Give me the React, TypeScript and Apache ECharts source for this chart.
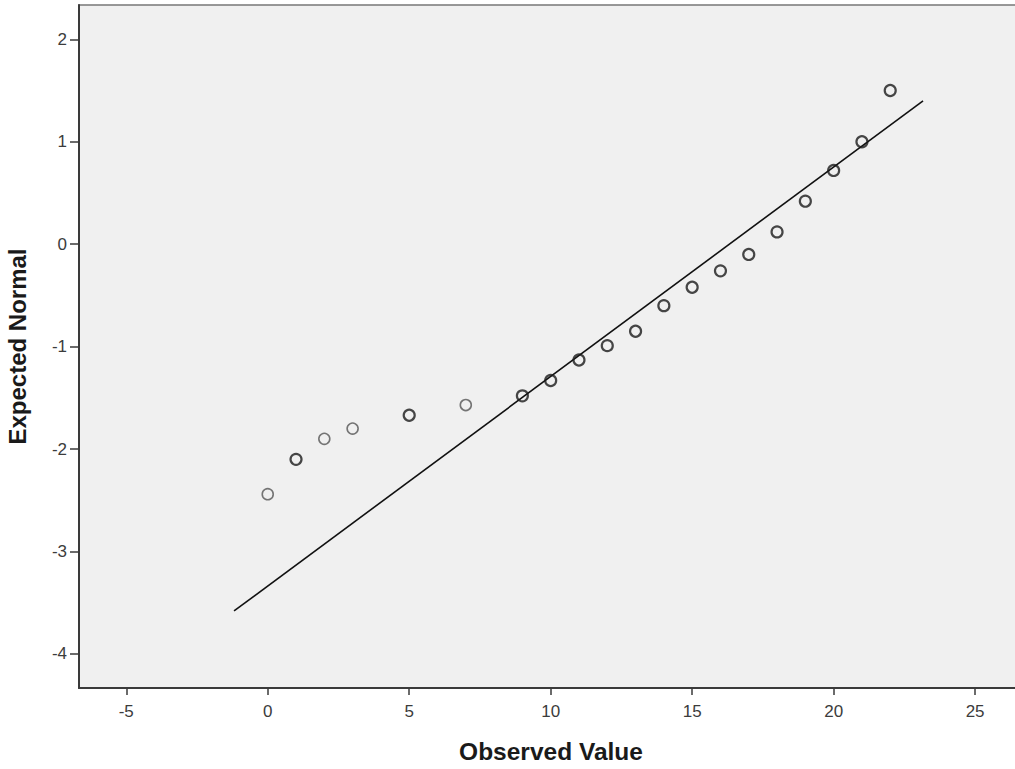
import React, { useEffect, useRef } from "react";
import * as echarts from "echarts";

const observed: number[] = [0, 1, 2, 3, 5, 7, 9, 10, 11, 12, 13, 14, 15, 16, 17, 18, 19, 20, 21, 22];
const expectedNormal: number[] = [
  -2.44, -2.1, -1.9, -1.8, -1.67, -1.57, -1.48, -1.33, -1.13, -0.99, -0.85, -0.6, -0.42, -0.26, -0.1, 0.12,
  0.42, 0.72, 1.0, 1.5,
];
// observed values drawn with a lighter outline
const lightObserved: number[] = [0, 2, 3, 7];
const lineX: number[] = [-1.19, 23.16];
const lineY: number[] = [-3.58, 1.4];
const xTicks: number[] = [-5, 0, 5, 10, 15, 20, 25];
const yTicks: number[] = [-4, -3, -2, -1, 0, 1, 2];

const FONT = '"Liberation Sans", Arial, "Noto Sans", sans-serif';

export default function App() {
  const ref = useRef<HTMLDivElement>(null);
  useEffect(() => {
    document.body.style.margin = "0";
    document.body.style.overflow = "hidden";
    const chart = echarts.init(ref.current!, null, { renderer: "svg" });
    const dark: number[][] = [];
    const light: number[][] = [];
    observed.forEach((x, i) => {
      (lightObserved.includes(x) ? light : dark).push([x, expectedNormal[i]]);
    });
    chart.setOption({
      animation: false,
      backgroundColor: "#ffffff",
      grid: {
        left: 79,
        top: 5,
        right: 40,
        bottom: 81,
        containLabel: false,
        outerBoundsMode: "none",
        show: true,
        backgroundColor: "#f0f0f0",
        borderColor: "#777777",
        borderWidth: 1.5,
      },
      xAxis: {
        type: "value",
        min: -6.67,
        max: 28,
        splitLine: { show: false },
        axisLine: { show: true, onZero: false, lineStyle: { color: "#3a3a3a", width: 2 } },
        axisTick: { show: true, length: 7, customValues: xTicks, lineStyle: { color: "#3a3a3a", width: 1.5 } },
        axisLabel: {
          customValues: xTicks,
          margin: 15,
          fontSize: 17,
          color: "#3c3c3c",
          fontFamily: FONT,
        },
      },
      yAxis: {
        type: "value",
        min: -4.332,
        max: 2.335,
        name: "Expected Normal",
        nameLocation: "middle",
        nameGap: 50,
        nameTextStyle: { fontSize: 24, fontWeight: "bold", color: "#1a1a1a", fontFamily: FONT },
        splitLine: { show: false },
        axisLine: { show: true, onZero: false, lineStyle: { color: "#3a3a3a", width: 2 } },
        axisTick: { show: true, length: 9, customValues: yTicks, lineStyle: { color: "#3a3a3a", width: 1.5 } },
        axisLabel: {
          customValues: yTicks,
          margin: 12,
          fontSize: 17,
          color: "#3c3c3c",
          fontFamily: FONT,
        },
      },
      graphic: [
        {
          type: "text",
          x: 551,
          y: 751,
          style: {
            text: "Observed Value",
            fontSize: 24.5,
            fontWeight: "bold",
            fill: "#1a1a1a",
            fontFamily: FONT,
            textAlign: "center",
            textVerticalAlign: "middle",
          },
        },
      ],
      series: [
        {
          type: "line",
          data: lineX.map((x, i) => [x, lineY[i]]),
          symbol: "none",
          lineStyle: { color: "#111111", width: 1.6 },
          z: 2,
        },
        {
          type: "scatter",
          data: light,
          symbol: "circle",
          symbolSize: 11,
          itemStyle: { color: "rgba(0,0,0,0)", borderColor: "#555555", borderWidth: 1.6 },
          z: 3,
        },
        {
          type: "scatter",
          data: dark,
          symbol: "circle",
          symbolSize: 11,
          itemStyle: { color: "rgba(0,0,0,0)", borderColor: "#1a1a1a", borderWidth: 2.2 },
          z: 3,
        },
      ],
    });
    return () => chart.dispose();
  }, []);
  return (
    <div style={{ width: 1015, height: 769, overflow: "hidden", position: "relative" }}>
      <div ref={ref} style={{ width: 1100, height: 769, position: "absolute", left: 0, top: 0 }} />
    </div>
  );
}
